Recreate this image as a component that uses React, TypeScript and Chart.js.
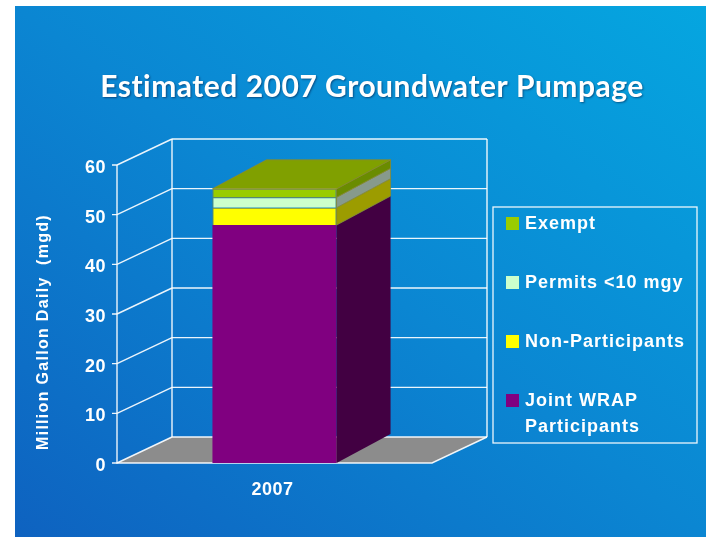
import React, { useEffect, useRef } from "react";
import { Chart, registerables } from "chart.js";

Chart.register(...registerables);

const categories = ["2007"];
const seriesNames = ["Joint WRAP Participants", "Non-Participants", "Permits <10 mgy", "Exempt"];
const jointWrap = [47.9];
const nonParticipants = [3.5];
const permits = [2.1];
const exempt = [1.7];
const yTicks = [0, 10, 20, 30, 40, 50, 60];
const titleText = "Estimated 2007 Groundwater Pumpage";
const yAxisTitle = "Million Gallon Daily  (mgd)";

const frontColors = ["#800080", "#ffff00", "#ccffcc", "#99cc00"];
const sideColors = ["#420042", "#9c9c00", "#879a8c", "#6a8c00"];
const topColor = "#80a000";
const borderColors = ["#800080", "#8a8a30", "#8a8a30", "#8a8a30"];

const W = 706;
const H = 537;
const FLOOR_DX = 55;
const FLOOR_DY = -26;
const BAR_DX = 54;
const BAR_DY = -29;
const LINE = "rgba(255,255,255,0.92)";

const threeD = {
  id: "threeD",
  beforeDatasetsDraw(chart: any) {
    const ctx = chart.ctx;
    const ys = chart.scales.y;
    const a = chart.chartArea;
    const L = a.left;
    const R = a.right;
    const B = ys.getPixelForValue(0);
    const T = ys.getPixelForValue(yTicks[yTicks.length - 1]);
    ctx.save();
    // floor
    ctx.fillStyle = "#8c8c8c";
    ctx.beginPath();
    ctx.moveTo(L, B);
    ctx.lineTo(R, B);
    ctx.lineTo(R + FLOOR_DX, B + FLOOR_DY);
    ctx.lineTo(L + FLOOR_DX, B + FLOOR_DY);
    ctx.closePath();
    ctx.fill();
    ctx.strokeStyle = LINE;
    ctx.lineWidth = 1.4;
    // back wall grid + left wall diagonals + ticks
    yTicks.forEach((v) => {
      const y = ys.getPixelForValue(v);
      ctx.beginPath();
      ctx.moveTo(L + FLOOR_DX, y + FLOOR_DY);
      ctx.lineTo(R + FLOOR_DX, y + FLOOR_DY);
      ctx.moveTo(L, y);
      ctx.lineTo(L + FLOOR_DX, y + FLOOR_DY);
      ctx.moveTo(L - 5, y);
      ctx.lineTo(L, y);
      ctx.stroke();
    });
    ctx.beginPath();
    ctx.moveTo(L + FLOOR_DX, T + FLOOR_DY);
    ctx.lineTo(L + FLOOR_DX, B + FLOOR_DY);
    ctx.moveTo(R + FLOOR_DX, T + FLOOR_DY);
    ctx.lineTo(R + FLOOR_DX, B + FLOOR_DY);
    ctx.moveTo(L, T);
    ctx.lineTo(L, B);
    ctx.lineTo(R, B);
    ctx.lineTo(R + FLOOR_DX, B + FLOOR_DY);
    ctx.stroke();

    // tick labels
    ctx.fillStyle = "#ffffff";
    ctx.font = "bold 18px 'Liberation Sans', Arial, sans-serif";
    (ctx as any).letterSpacing = "0.5px";
    ctx.textAlign = "right";
    ctx.textBaseline = "middle";
    yTicks.forEach((v) => {
      ctx.fillText(String(v), L - 11, ys.getPixelForValue(v) + 3);
    });
    // category labels
    const xs = chart.scales.x;
    ctx.textAlign = "center";
    categories.forEach((c, i) => {
      ctx.fillText(c, xs.getPixelForValue(i) - 2, B + 27);
    });
    // y title
    ctx.save();
    ctx.translate(44, (T + B) / 2 + 18);
    ctx.rotate(-Math.PI / 2);
    ctx.font = "bold 16px 'Liberation Sans', Arial, sans-serif";
    (ctx as any).letterSpacing = "1.3px";
    ctx.fillText(yAxisTitle, 0, 0);
    ctx.restore();

    // title
    ctx.save();
    ctx.font = "bold 30px Lato, 'Open Sans', sans-serif";
    (ctx as any).letterSpacing = "0.5px";
    ctx.shadowColor = "rgba(0,0,40,0.45)";
    ctx.shadowOffsetX = 1;
    ctx.shadowOffsetY = 1;
    ctx.shadowBlur = 2;
    ctx.fillText(titleText, 372, 87);
    ctx.restore();

    // legend
    const lx = 493;
    const ly = 207;
    const lw = 204;
    const lh = 236;
    ctx.strokeStyle = LINE;
    ctx.lineWidth = 1.3;
    ctx.strokeRect(lx, ly, lw, lh);
    ctx.font = "bold 18px 'Liberation Sans', Arial, sans-serif";
    (ctx as any).letterSpacing = "1px";
    ctx.textAlign = "left";
    const ds = chart.data.datasets;
    const order = ds.map((_: any, i: number) => i).reverse();
    order.forEach((di: number, k: number) => {
      const cy = ly + 16 + k * 59;
      ctx.fillStyle = ds[di].backgroundColor;
      ctx.fillRect(lx + 13, cy - 6, 13, 13);
      ctx.fillStyle = "#ffffff";
      const words = String(ds[di].label).split(" ");
      const lines: string[] = [];
      let cur = "";
      words.forEach((w) => {
        const t = cur ? cur + " " + w : w;
        if (ctx.measureText(t).width > 165 && cur) {
          lines.push(cur);
          cur = w;
        } else cur = t;
      });
      lines.push(cur);
      lines.forEach((ln, j) => ctx.fillText(ln, lx + 32, cy + 1 + j * 26));
    });
    ctx.restore();
  },
  afterDatasetsDraw(chart: any) {
    const ctx = chart.ctx;
    ctx.save();
    const n = chart.data.datasets.length;
    for (let d = 0; d < n; d++) {
      const meta = chart.getDatasetMeta(d);
      meta.data.forEach((el: any) => {
        const x2 = el.x + el.width / 2;
        const x1 = el.x - el.width / 2;
        const yt = Math.min(el.y, el.base);
        const yb = Math.max(el.y, el.base);
        ctx.fillStyle = sideColors[d];
        ctx.strokeStyle = borderColors[d];
        ctx.lineWidth = 0.8;
        ctx.beginPath();
        ctx.moveTo(x2, yt);
        ctx.lineTo(x2 + BAR_DX, yt + BAR_DY);
        ctx.lineTo(x2 + BAR_DX, yb + BAR_DY);
        ctx.lineTo(x2, yb);
        ctx.closePath();
        ctx.fill();
        if (d > 0) ctx.stroke();
        if (d === n - 1) {
          ctx.fillStyle = topColor;
          ctx.beginPath();
          ctx.moveTo(x1, yt);
          ctx.lineTo(x2, yt);
          ctx.lineTo(x2 + BAR_DX, yt + BAR_DY);
          ctx.lineTo(x1 + BAR_DX, yt + BAR_DY);
          ctx.closePath();
          ctx.fill();
          ctx.stroke();
        }
      });
    }
    ctx.restore();
  },
};

export default function App() {
  const ref = useRef<HTMLCanvasElement | null>(null);
  useEffect(() => {
    if (!ref.current) return;
    const series = [jointWrap, nonParticipants, permits, exempt];
    const chart = new Chart(ref.current, {
      type: "bar",
      data: {
        labels: categories,
        datasets: series.map((s, i) => ({
          label: seriesNames[i],
          data: s,
          backgroundColor: frontColors[i],
          borderColor: borderColors[i],
          borderWidth: i === 0 ? 0 : 1,
          categoryPercentage: 1,
          barPercentage: 0.394,
        })),
      },
      options: {
        responsive: false,
        animation: false,
        devicePixelRatio: 1,
        layout: { padding: { left: 117, right: 274, top: 165, bottom: 74 } },
        plugins: { legend: { display: false }, title: { display: false }, tooltip: { enabled: false } },
        scales: {
          x: { display: false, stacked: true },
          y: { display: false, stacked: true, min: 0, max: 60 },
        },
      },
      plugins: [threeD],
    });
    return () => chart.destroy();
  }, []);
  return (
    <div style={{ position: "fixed", left: 0, top: 0, width: W, height: H, background: "#ffffff", overflow: "hidden" }}>
      <div
        style={{
          position: "absolute",
          left: 15,
          top: 6,
          right: 0,
          bottom: 0,
          background: "linear-gradient(to top right, #0e62c0 0%, #0b86d2 50%, #05a6e0 100%)",
        }}
      />
      <canvas ref={ref} width={W} height={H} style={{ position: "absolute", left: 0, top: 0, width: W, height: H }} />
    </div>
  );
}
